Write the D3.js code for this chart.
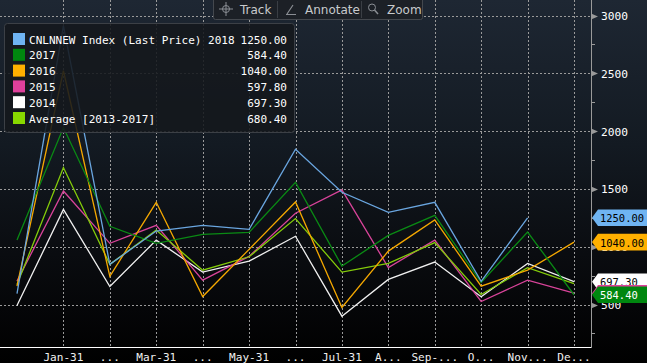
<!DOCTYPE html>
<html>
<head>
<meta charset="utf-8">
<script src="https://cdn.jsdelivr.net/npm/d3@7"></script>
<style>
  html, body { margin: 0; padding: 0; background: #000; }
  svg { display: block; }
  text { font-family: "DejaVu Sans Mono", monospace; }
</style>
</head>
<body>
<script>
// month points: index 0 is the year start, 1..12 are month ends
var monthLabels = ["", "Jan-31", "...", "Mar-31", "...", "May-31", "...", "Jul-31", "A...", "Sep-...", "O...", "Nov...", "De..."];

var s2018 = [595, 2910, 847, 1135, 1185, 1150, 1843, 1471, 1297, 1384, 700, 1250];
var s2017 = [1057, 2031, 1176, 1029, 1107, 1124, 1557, 832, 1098, 1271, 690, 1127, 584.4];
var s2016 = [659, 2522, 743, 1384, 569, 977, 1387, 474, 962, 1231, 659, 797, 1040];
var s2015 = [702, 1482, 1029, 1185, 711, 916, 1289, 1491, 820, 1057, 526, 711, 597.8];
var s2014 = [491, 1323, 656, 1057, 780, 875, 1090, 399, 717, 867, 567, 855, 697.3];
var sAvg  = [673, 1685, 847, 1144, 797, 913, 1243, 780, 855, 1035, 587, 818, 680.4];

var yTicks = [500, 1000, 1500, 2000, 2500, 3000];
var yMinor = [250, 750, 1250, 1750, 2250, 2750];

var series = [
    {name: "CNLNNEW Index (Last Price) 2018", last: "1250.00", color: "#6fb4f2", line: "#6aa6e0", data: s2018, tagText: "#000"},
    {name: "2017", last: "584.40", color: "#00870f", line: "#0a8a14", data: s2017, tagText: "#fff"},
    {name: "2016", last: "1040.00", color: "#ffb000", line: "#f5a800", data: s2016, tagText: "#000"},
    {name: "2015", last: "597.80", color: "#e0409c", line: "#d9449a", data: s2015, tagText: "#000"},
    {name: "2014", last: "697.30", color: "#ffffff", line: "#f0f0f0", data: s2014, tagText: "#000"},
    {name: "Average [2013-2017]", last: "680.40", color: "#88d800", line: "#84cc0a", data: sAvg, tagText: "#000"}
];

var W = 647, H = 363;
var plotRight = 591, plotBottom = 347;

// scale a group's font so that a sample text gets the width seen in the reference
function fitFont(sel, sampleNode, target, base) {
    var w = sampleNode.getComputedTextLength();
    var fs = w > 0 ? base * target / w : base;
    sel.style("font-size", fs + "px");
}

var svg = d3.select("body").append("svg")
    .attr("width", W)
    .attr("height", H);

var defs = svg.append("defs");
var grad = defs.append("linearGradient")
    .attr("id", "bg")
    .attr("x1", 0).attr("y1", 0).attr("x2", 0).attr("y2", 1);
grad.append("stop").attr("offset", "0%").attr("stop-color", "#1e2733");
grad.append("stop").attr("offset", "40%").attr("stop-color", "#131a22");
grad.append("stop").attr("offset", "70%").attr("stop-color", "#0a0c10");
grad.append("stop").attr("offset", "100%").attr("stop-color", "#000000");

svg.append("rect")
    .attr("width", W)
    .attr("height", H)
    .attr("fill", "url(#bg)");

var x = d3.scaleLinear().domain([0, 12]).range([17, 574]);
var y = d3.scaleLinear().domain([500, 3000]).range([304.5, 15.5]);

// grid
var grid = svg.append("g").attr("class", "grid");
grid.selectAll("line.h")
    .data(yTicks)
    .enter()
    .append("line")
    .attr("x1", 0)
    .attr("x2", plotRight)
    .attr("y1", function(d) { return Math.round(y(d)) + 0.5; })
    .attr("y2", function(d) { return Math.round(y(d)) + 0.5; })
    .style("stroke", "#9a9a9a")
    .style("stroke-dasharray", "2,2")
    .style("stroke-width", 1);

grid.selectAll("line.v")
    .data(d3.range(1, 13))
    .enter()
    .append("line")
    .attr("x1", function(d) { return Math.round(x(d)) + 0.5; })
    .attr("x2", function(d) { return Math.round(x(d)) + 0.5; })
    .attr("y1", 0)
    .attr("y2", plotBottom)
    .style("stroke", "#9a9a9a")
    .style("stroke-dasharray", "2,2")
    .style("stroke-width", 1);

// lines, drawn back to front
var line = d3.line()
    .x(function(d, i) { return x(i); })
    .y(function(d) { return y(d); });

var drawOrder = [4, 3, 5, 2, 1, 0];
drawOrder.forEach(function(k) {
    svg.append("path")
        .datum(series[k].data)
        .attr("d", line)
        .style("fill", "none")
        .style("stroke", series[k].line)
        .style("stroke-width", 1.3);
});

// bottom axis
svg.append("line")
    .attr("x1", 0).attr("x2", plotRight)
    .attr("y1", plotBottom + 0.5).attr("y2", plotBottom + 0.5)
    .style("stroke", "#ffffff")
    .style("stroke-width", 1);

var xLabels = svg.append("g").selectAll("text")
    .data(monthLabels)
    .enter()
    .append("text")
    .attr("x", function(d, i) { return x(i); })
    .attr("y", 361)
    .attr("text-anchor", "middle")
    .style("font-size", "11.5px")
    .style("fill", "#f0f0f0")
    .text(function(d) { return d; });
fitFont(xLabels, xLabels.nodes()[1], 40, 11.5);

// right axis
svg.append("line")
    .attr("x1", plotRight + 0.5).attr("x2", plotRight + 0.5)
    .attr("y1", 0).attr("y2", plotBottom + 1)
    .style("stroke", "#9a9a9a")
    .style("stroke-width", 1);

svg.append("g").selectAll("line")
    .data(yMinor)
    .enter()
    .append("line")
    .attr("x1", plotRight)
    .attr("x2", plotRight + 4)
    .attr("y1", function(d) { return Math.round(y(d)) + 0.5; })
    .attr("y2", function(d) { return Math.round(y(d)) + 0.5; })
    .style("stroke", "#9a9a9a");

svg.append("g").selectAll("path")
    .data(yTicks)
    .enter()
    .append("path")
    .attr("d", function(d) {
        var yy = Math.round(y(d)) + 0.5;
        return "M" + plotRight + "," + (yy - 3) + "L" + (plotRight + 7) + "," + yy + "L" + plotRight + "," + (yy + 3) + "Z";
    })
    .style("fill", "#9a9a9a");

var yLabels = svg.append("g").selectAll("text")
    .data(yTicks)
    .enter()
    .append("text")
    .attr("x", 601)
    .attr("y", function(d) { return y(d) + 4.5; })
    .style("font-size", "12px")
    .style("fill", "#ffffff")
    .text(function(d) { return d; });
fitFont(yLabels, yLabels.nodes()[5], 27, 12);

// last value tags
var tagOrder = [0, 2, 4, 3, 1];
var tagTexts = [];
tagOrder.forEach(function(k) {
    var s = series[k];
    var v = +s.last;
    var yy = y(v);
    var g = svg.append("g");
    g.append("path")
        .attr("d", "M" + 592 + "," + yy + "L" + 598 + "," + (yy - 8.3) + "L" + W + "," + (yy - 8.3) +
            "L" + W + "," + (yy + 8.3) + "L" + 598 + "," + (yy + 8.3) + "Z")
        .style("fill", s.color);
    var t = g.append("text")
        .attr("x", 600)
        .attr("y", yy + 4.5)
        .style("font-size", "10.7px")
        .style("fill", s.tagText)
        .text(s.last);
    tagTexts.push(t.node());
});
fitFont(d3.selectAll(tagTexts), tagTexts[0], 44, 10.7);

// legend
var legend = svg.append("g").attr("class", "legend");
legend.append("rect")
    .attr("x", 4.5).attr("y", 23.5)
    .attr("width", 290).attr("height", 109)
    .attr("rx", 3)
    .style("fill", "#14181d")
    .style("fill-opacity", 0.88)
    .style("stroke", "#3c4046");

series.forEach(function(s, i) {
    var yy = 39 + i * 15.8;
    legend.append("rect")
        .attr("x", 13).attr("y", yy - 6)
        .attr("width", 12).attr("height", 12)
        .style("fill", s.color);
    legend.append("text")
        .attr("class", "lname")
        .attr("x", 29).attr("y", yy + 4.5)
        .style("font-size", "11px")
        .style("fill", "#ffffff")
        .text(s.name);
    legend.append("text")
        .attr("class", "lval")
        .attr("x", 287).attr("y", yy + 4.5)
        .attr("text-anchor", "end")
        .style("font-size", "11px")
        .style("fill", "#ffffff")
        .text(s.last);
});
var legendTexts = legend.selectAll("text");
fitFont(legendTexts, legend.select("text.lname").node(), 206, 11);

// toolbar
var tb = svg.append("g").attr("class", "toolbar");
tb.append("rect")
    .attr("x", 213.5).attr("y", -3.5)
    .attr("width", 209).attr("height", 23)
    .attr("rx", 2)
    .style("fill", "#1c2026")
    .style("stroke", "#44484e");
[277, 361].forEach(function(sx) {
    tb.append("line")
        .attr("x1", sx + 0.5).attr("x2", sx + 0.5)
        .attr("y1", 1).attr("y2", 18)
        .style("stroke", "#3a3e44");
});
// crosshair icon
tb.append("circle").attr("cx", 226).attr("cy", 9).attr("r", 3.5)
    .style("fill", "none").style("stroke", "#8a8e94");
tb.append("path").attr("d", "M219,9H233M226,2V16")
    .style("stroke", "#8a8e94");
// pencil icon
tb.append("path").attr("d", "M287,14L293,5M286,14.5H296")
    .style("stroke", "#8a8e94").style("stroke-width", 1.2);
// magnifier icon
tb.append("circle").attr("cx", 372).attr("cy", 7.5).attr("r", 3.5)
    .style("fill", "none").style("stroke", "#8a8e94");
tb.append("path").attr("d", "M374.5,10L378,14")
    .style("stroke", "#8a8e94").style("stroke-width", 1.5);

[["Track", 240], ["Annotate", 305], ["Zoom", 387]].forEach(function(t) {
    tb.append("text")
        .attr("x", t[1]).attr("y", 13.5)
        .style("font-family", "'DejaVu Sans', sans-serif")
        .style("font-size", "12px")
        .style("fill", "#c8cacc")
        .text(t[0]);
});
</script>
</body>
</html>
